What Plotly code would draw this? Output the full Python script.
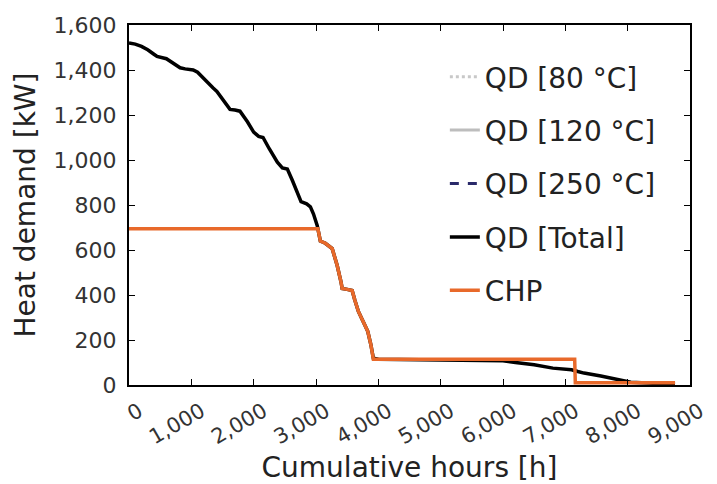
import plotly.graph_objects as go

# Load duration curve data
total_hours = [0, 100, 200, 300, 400, 450, 600, 700, 820, 900, 1030, 1100, 1200, 1250, 1350,
               1410, 1500, 1620, 1700, 1780, 1900, 2000, 2080, 2150, 2250, 2380, 2460, 2540,
               2620, 2700, 2760, 2850, 2910, 2960, 3020, 3070, 3150, 3260, 3300, 3340, 3400,
               3420, 3500, 3580, 3620, 3680, 3760, 3830, 3880, 3920, 4000, 5000, 6000, 6200,
               6500, 6800, 7100, 7200, 7300, 7570, 7890, 8050, 8400, 8760]
total_kw = [1520, 1515, 1505, 1490, 1470, 1460, 1450, 1430, 1410, 1405, 1400, 1390, 1360, 1345,
            1320, 1305, 1270, 1225, 1222, 1217, 1170, 1124, 1105, 1100, 1050, 990, 965, 960,
            910, 858, 815, 805, 792, 760, 708, 640, 630, 606, 570, 531, 460, 429, 425, 420,
            380, 327, 280, 239, 180, 119, 115, 112, 108, 100, 90, 75, 68, 60, 53, 40, 22, 12,
            8, 5]

chp_hours = [0, 3030, 3070, 3150, 3260, 3300, 3340, 3400, 3420, 3500, 3580, 3620, 3680, 3760,
             3830, 3880, 3920, 7150, 7160, 8760]
chp_kw = [695, 695, 640, 630, 606, 570, 531, 460, 429, 425, 420, 380, 327, 280, 239, 180, 115,
          115, 10, 10]

# Temperature-level series: no visible values in the plot area
qd80_hours, qd80_kw = [0], [None]
qd120_hours, qd120_kw = [0], [None]
qd250_hours, qd250_kw = [0], [None]

legend_names = ["QD [80 °C]", "QD [120 °C]", "QD [250 °C]", "QD [Total]", "CHP"]
x_ticks = [0, 1000, 2000, 3000, 4000, 5000, 6000, 7000, 8000, 9000]
y_ticks = [0, 200, 400, 600, 800, 1000, 1200, 1400, 1600]

FONT = "DejaVu Sans"

fig = go.Figure()
fig.add_trace(go.Scatter(x=qd80_hours, y=qd80_kw, mode="lines", name=legend_names[0], legendgroup="a",
                         line=dict(color="#c8c8c8", width=3, dash="dot")))
fig.add_trace(go.Scatter(x=qd120_hours, y=qd120_kw, mode="lines", name=legend_names[1], legendgroup="b",
                         line=dict(color="#bdbdbd", width=3)))
fig.add_trace(go.Scatter(x=qd250_hours, y=qd250_kw, mode="lines", name=legend_names[2], legendgroup="c",
                         line=dict(color="#2a2a6a", width=3, dash="dash")))
fig.add_trace(go.Scatter(x=total_hours, y=total_kw, mode="lines", name=legend_names[3],
                         legendgroup="d", line=dict(color="black", width=3.5)))
fig.add_trace(go.Scatter(x=chp_hours, y=chp_kw, mode="lines", name=legend_names[4],
                         legendgroup="e", line=dict(color="#E8692A", width=3.5)))

fig.update_layout(
    width=717, height=484,
    margin=dict(l=129, r=27, t=25, b=99),
    plot_bgcolor="white", paper_bgcolor="white",
    font=dict(family=FONT, color="#222222"),
    showlegend=True,
    legend=dict(x=0.563, y=0.925, xanchor="left", yanchor="top",
                bgcolor="rgba(0,0,0,0)", borderwidth=0,
                font=dict(size=28, family=FONT, color="#222222"),
                traceorder="grouped", tracegroupgap=14),
    xaxis=dict(range=[0, 9000], tickvals=x_ticks, ticktext=[f"{v:,}" for v in x_ticks],
               tickangle=-30, ticks="inside", ticklen=6, tickwidth=1, tickcolor="black",
               showline=True, linecolor="black", linewidth=2, mirror="ticks",
               showgrid=False, zeroline=False, automargin=False,
               ticklabelshift=10, ticklabelstandoff=4, ticklabeloverflow="allow",
               tickfont=dict(size=21, family=FONT, color="#333333"),
               title=dict(text="Cumulative hours [h]", font=dict(size=28, family=FONT, color="#222222"),
                          standoff=17)),
    yaxis=dict(range=[0, 1600], tickvals=y_ticks, ticktext=[f"{v:,}" for v in y_ticks],
               ticks="inside", ticklen=6, tickwidth=1, tickcolor="black",
               showline=True, linecolor="black", linewidth=2, mirror="ticks",
               showgrid=False, zeroline=False, ticklabelstandoff=6, automargin=False,
               tickfont=dict(size=22, family=FONT, color="#333333"),
               title=dict(text="Heat demand [kW]", font=dict(size=28, family=FONT, color="#222222"),
                          standoff=10)),
)

fig.write_html("out.html")
